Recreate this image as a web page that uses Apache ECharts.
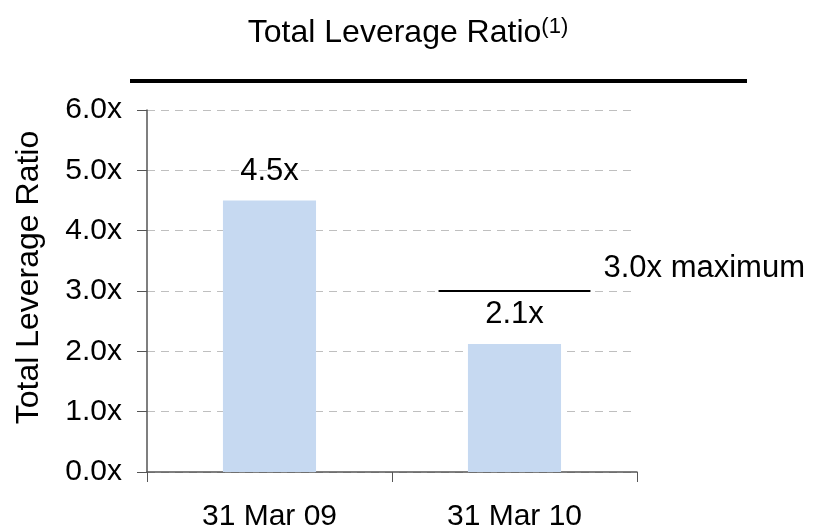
<!DOCTYPE html>
<html>
<head>
<meta charset="utf-8">
<script src="https://cdn.jsdelivr.net/npm/echarts@6/dist/echarts.min.js"></script>
<style>
html,body{margin:0;padding:0;background:#fff;}
#chart{width:816px;height:529px;}
</style>
</head>
<body>
<div id="chart"></div>
<script>
// data
var categories = ['31 Mar 09', '31 Mar 10'];
var leverage = [4.5, 2.12];
var maxRatio = 3.0;
var yTicks = [0, 1, 2, 3, 4, 5, 6];

var font = 'Liberation Sans, Arial, sans-serif';
var myChart = echarts.init(document.getElementById('chart'), null, {renderer: 'canvas'});

var option = {
	animation: false,
	textStyle: {fontFamily: font},
	graphic: [
		{
			type: 'text',
			left: 'center',
			top: 16,
			style: {
				text: 'Total Leverage Ratio{s|(1)}',
				font: '32px ' + font,
				fill: '#000',
				rich: {
					s: {fontSize: 22, fontFamily: font, verticalAlign: 'top', padding: [0, 0, 12, 0]}
				}
			}
		},
		{
			type: 'line',
			shape: {x1: 130, y1: 81, x2: 747, y2: 81},
			style: {stroke: '#000', lineWidth: 4}
		}
	],
	grid: {left: 147, right: 179, top: 110, bottom: 57, containLabel: false, outerBoundsMode: 'none'},
	xAxis: {
		type: 'category',
		data: categories,
		axisLine: {lineStyle: {color: '#555', width: 1.5}},
		axisTick: {show: true, length: 10, lineStyle: {color: '#555'}},
		axisLabel: {color: '#000', fontSize: 30, fontFamily: font, margin: 30}
	},
	yAxis: {
		type: 'value',
		min: yTicks[0],
		max: yTicks[yTicks.length - 1],
		interval: 1,
		name: 'Total Leverage Ratio',
		nameLocation: 'middle',
		nameRotate: 90,
		nameGap: 102,
		nameTextStyle: {color: '#000', fontSize: 32, fontFamily: font, padding: [0, 0, 0, 27]},
		axisLine: {show: true, lineStyle: {color: '#555', width: 1.5}},
		axisTick: {show: true, length: 10, lineStyle: {color: '#555'}},
		axisLabel: {
			color: '#000', fontSize: 30, fontFamily: font, margin: 25,
			formatter: function (v) { return v.toFixed(1) + 'x'; }
		},
		splitLine: {show: true, lineStyle: {color: '#bfbfbf', type: [8, 6], width: 1}}
	},
	series: [
		{
			type: 'bar',
			data: leverage,
			barWidth: '38%',
			itemStyle: {color: '#C6D9F1'},
			label: {
				show: true,
				position: 'top',
				distance: 14,
				color: '#000',
				fontSize: 31,
				fontFamily: font,
				formatter: function (p) { return p.value.toFixed(1) + 'x'; }
			}
		},
		{
			type: 'custom',
			data: [[1, maxRatio]],
			renderItem: function (params, api) {
				var pt = api.coord([api.value(0), api.value(1)]);
				var bw = api.size([1, 0])[0];
				var half = bw * 0.31;
				return {
					type: 'group',
					children: [
						{
							type: 'line',
							shape: {x1: pt[0] - half, y1: pt[1], x2: pt[0] + half, y2: pt[1]},
							style: {stroke: '#000', lineWidth: 2}
						},
						{
							type: 'text',
							x: pt[0] + half + 13,
							y: pt[1] - 23,
							style: {
								text: api.value(1).toFixed(1) + 'x maximum',
								font: '31px ' + font,
								fill: '#000',
								textVerticalAlign: 'middle'
							}
						}
					]
				};
			}
		}
	]
};

myChart.setOption(option);
</script>
</body>
</html>
